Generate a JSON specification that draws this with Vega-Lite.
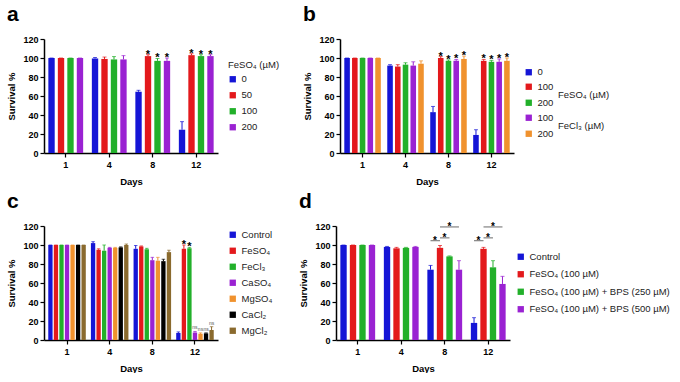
{
  "$schema": "https://vega.github.io/schema/vega-lite/v6.json",
  "padding": {"left": 6, "top": 4, "right": 0, "bottom": 0},
  "background": "white",
  "config": {
    "font": "Liberation Sans",
    "view": {"stroke": null},
    "axis": {"grid": false, "domainColor": "#000", "domainWidth": 1.5, "tickColor": "#000", "tickWidth": 1.2, "tickSize": 4, "labelColor": "#000", "labelFontSize": 9, "labelFontWeight": "bold", "titleFontSize": 9.5, "titleFontWeight": "bold", "titleColor": "#000"},
    "axisX": {"labelAngle": 0, "labelPadding": 3, "titlePadding": 7},
    "axisY": {"titlePadding": 6, "labelPadding": 2},
    "legend": {"labelFontSize": 9.5, "labelColor": "#222", "titleFontSize": 9.5, "titleFontWeight": "normal", "titleColor": "#222", "symbolType": "square", "symbolSize": 40, "symbolStrokeWidth": 0, "symbolOpacity": 1, "rowPadding": 5, "offset": 10, "layout": {"right": {"anchor": "middle", "direction": "vertical", "margin": 5}}},
    "title": {"fontSize": 21, "fontWeight": "bold", "anchor": "start", "frame": "bounds", "color": "#000"}
  },
  "resolve": {"scale": {"color": "independent", "xOffset": "independent"}, "legend": {"color": "independent"}},
  "vconcat": [
    {
      "resolve": {"scale": {"color": "independent", "xOffset": "independent"}, "legend": {"color": "independent"}},
      "hconcat": [
        {
          "title": {"text": "a", "offset": 10},
          "width": 174, "height": 114,
          "data": {"values": [
            {"day": "1", "s": "0", "v": 100, "hi": 100, "sig": ""},
            {"day": "1", "s": "50", "v": 100, "hi": 100, "sig": ""},
            {"day": "1", "s": "100", "v": 100, "hi": 100, "sig": ""},
            {"day": "1", "s": "200", "v": 100, "hi": 100, "sig": ""},
            {"day": "4", "s": "0", "v": 99.5, "hi": 100.5, "sig": ""},
            {"day": "4", "s": "50", "v": 99, "hi": 101, "sig": ""},
            {"day": "4", "s": "100", "v": 98.5, "hi": 101.5, "sig": ""},
            {"day": "4", "s": "200", "v": 98.5, "hi": 102.5, "sig": ""},
            {"day": "8", "s": "0", "v": 64.5, "hi": 66, "sig": ""},
            {"day": "8", "s": "50", "v": 102, "hi": 103.5, "sig": "*"},
            {"day": "8", "s": "100", "v": 97, "hi": 99.5, "sig": "*"},
            {"day": "8", "s": "200", "v": 97, "hi": 100, "sig": "*"},
            {"day": "12", "s": "0", "v": 24.5, "hi": 33, "sig": ""},
            {"day": "12", "s": "50", "v": 103, "hi": 104.5, "sig": "*"},
            {"day": "12", "s": "100", "v": 102, "hi": 103.5, "sig": "*"},
            {"day": "12", "s": "200", "v": 102, "hi": 103.5, "sig": "*"}
          ]},
          "encoding": {
            "x": {"field": "day", "type": "nominal", "title": "Days", "scale": {"domain": ["1", "4", "8", "12"], "paddingInner": 0.2, "paddingOuter": 0.1}},
            "xOffset": {"field": "s", "scale": {"domain": ["0", "50", "100", "200"], "paddingInner": 0.33}},
            "y": {"field": "v", "type": "quantitative", "title": "Survival %", "scale": {"domain": [0, 120], "nice": false}, "axis": {"values": [0, 20, 40, 60, 80, 100, 120]}}
          },
          "layer": [
            {"mark": {"type": "bar"}, "encoding": {"color": {"field": "s", "type": "nominal", "scale": {"domain": ["0", "50", "100", "200"], "range": ["#1515d6", "#e3191c", "#22b02a", "#9a22d2"]}, "legend": {"title": "FeSO₄ (µM)"}}}},
            {"mark": {"type": "rule", "strokeWidth": 1}, "encoding": {"y2": {"field": "hi"}, "color": {"field": "s", "type": "nominal", "legend": null}}},
            {"mark": {"type": "tick", "orient": "horizontal", "size": 4, "thickness": 1}, "encoding": {"y": {"field": "hi", "type": "quantitative"}, "color": {"field": "s", "type": "nominal", "legend": null}}},
            {"mark": {"type": "text", "baseline": "bottom", "fontSize": 11, "fontWeight": "bold", "dy": 5}, "encoding": {"y": {"field": "hi", "type": "quantitative"}, "text": {"field": "sig"}}}
          ]
        },
        {
          "title": {"text": "b", "offset": 10},
          "width": 174, "height": 114,
          "data": {"values": [
            {"day": "1", "s": "0", "g": "0", "lab": "0", "v": 100, "hi": 100, "sig": ""},
            {"day": "1", "s": "FeSO4 100", "g": "FeSO4", "lab": "100", "v": 100, "hi": 100, "sig": ""},
            {"day": "1", "s": "FeSO4 200", "g": "FeSO4", "lab": "200", "v": 100, "hi": 100, "sig": ""},
            {"day": "1", "s": "FeCl3 100", "g": "FeCl3", "lab": "100", "v": 100, "hi": 100, "sig": ""},
            {"day": "1", "s": "FeCl3 200", "g": "FeCl3", "lab": "200", "v": 100, "hi": 100, "sig": ""},
            {"day": "4", "s": "0", "g": "0", "lab": "0", "v": 92, "hi": 93, "sig": ""},
            {"day": "4", "s": "FeSO4 100", "g": "FeSO4", "lab": "100", "v": 91, "hi": 93, "sig": ""},
            {"day": "4", "s": "FeSO4 200", "g": "FeSO4", "lab": "200", "v": 93, "hi": 95, "sig": ""},
            {"day": "4", "s": "FeCl3 100", "g": "FeCl3", "lab": "100", "v": 92, "hi": 96, "sig": ""},
            {"day": "4", "s": "FeCl3 200", "g": "FeCl3", "lab": "200", "v": 94, "hi": 97, "sig": ""},
            {"day": "8", "s": "0", "g": "0", "lab": "0", "v": 43, "hi": 49, "sig": ""},
            {"day": "8", "s": "FeSO4 100", "g": "FeSO4", "lab": "100", "v": 100, "hi": 101.5, "sig": "*"},
            {"day": "8", "s": "FeSO4 200", "g": "FeSO4", "lab": "200", "v": 97, "hi": 98, "sig": "*"},
            {"day": "8", "s": "FeCl3 100", "g": "FeCl3", "lab": "100", "v": 97, "hi": 98.5, "sig": "*"},
            {"day": "8", "s": "FeCl3 200", "g": "FeCl3", "lab": "200", "v": 99, "hi": 102, "sig": "*"},
            {"day": "12", "s": "0", "g": "0", "lab": "0", "v": 19, "hi": 24.5, "sig": ""},
            {"day": "12", "s": "FeSO4 100", "g": "FeSO4", "lab": "100", "v": 97, "hi": 98.5, "sig": "*"},
            {"day": "12", "s": "FeSO4 200", "g": "FeSO4", "lab": "200", "v": 96, "hi": 97.5, "sig": "*"},
            {"day": "12", "s": "FeCl3 100", "g": "FeCl3", "lab": "100", "v": 96, "hi": 99, "sig": "*"},
            {"day": "12", "s": "FeCl3 200", "g": "FeCl3", "lab": "200", "v": 97, "hi": 100, "sig": "*"}
          ]},
          "encoding": {
            "x": {"field": "day", "type": "nominal", "title": "Days", "scale": {"domain": ["1", "4", "8", "12"], "paddingInner": 0.15, "paddingOuter": 0.1}},
            "xOffset": {"field": "s", "scale": {"domain": ["0", "FeSO4 100", "FeSO4 200", "FeCl3 100", "FeCl3 200"], "paddingInner": 0.28}},
            "y": {"field": "v", "type": "quantitative", "title": "Survival %", "scale": {"domain": [0, 120], "nice": false}, "axis": {"values": [0, 20, 40, 60, 80, 100, 120]}}
          },
          "resolve": {"scale": {"color": "independent"}, "legend": {"color": "independent"}},
          "layer": [
            {
              "transform": [{"filter": "datum.g == '0'"}],
              "encoding": {"color": {"field": "lab", "type": "nominal", "scale": {"domain": ["0"], "range": ["#1515d6"]}, "legend": {"title": " "}}},
              "layer": [
                {"mark": {"type": "bar"}},
                {"mark": {"type": "rule", "strokeWidth": 1}, "encoding": {"y2": {"field": "hi"}}},
                {"mark": {"type": "tick", "orient": "horizontal", "size": 4, "thickness": 1}, "encoding": {"y": {"field": "hi", "type": "quantitative"}}}
              ]
            },
            {
              "transform": [{"filter": "datum.g == 'FeSO4'"}],
              "encoding": {"color": {"field": "lab", "type": "nominal", "scale": {"domain": ["100", "200"], "range": ["#e3191c", "#22b02a"]}, "legend": {"title": "FeSO₄ (µM)", "titleOrient": "right", "titleAnchor": "middle"}}},
              "layer": [
                {"mark": {"type": "bar"}},
                {"mark": {"type": "rule", "strokeWidth": 1}, "encoding": {"y2": {"field": "hi"}}},
                {"mark": {"type": "tick", "orient": "horizontal", "size": 4, "thickness": 1}, "encoding": {"y": {"field": "hi", "type": "quantitative"}}}
              ]
            },
            {
              "transform": [{"filter": "datum.g == 'FeCl3'"}],
              "encoding": {"color": {"field": "lab", "type": "nominal", "scale": {"domain": ["100", "200"], "range": ["#9a22d2", "#f0922e"]}, "legend": {"title": "FeCl₃ (µM)", "titleOrient": "right", "titleAnchor": "middle"}}},
              "layer": [
                {"mark": {"type": "bar"}},
                {"mark": {"type": "rule", "strokeWidth": 1}, "encoding": {"y2": {"field": "hi"}}},
                {"mark": {"type": "tick", "orient": "horizontal", "size": 4, "thickness": 1}, "encoding": {"y": {"field": "hi", "type": "quantitative"}}}
              ]
            },
            {"mark": {"type": "text", "baseline": "bottom", "fontSize": 11, "fontWeight": "bold", "dy": 5}, "encoding": {"y": {"field": "hi", "type": "quantitative"}, "text": {"field": "sig"}}}
          ]
        }
      ],
      "spacing": 22
    },
    {
      "resolve": {"scale": {"color": "independent", "xOffset": "independent"}, "legend": {"color": "independent"}},
      "hconcat": [
        {
          "title": {"text": "c", "offset": 10},
          "width": 174, "height": 114,
          "data": {"values": [
            {"day": "1", "s": "Control", "v": 100, "hi": 100, "sig": ""},
            {"day": "1", "s": "FeSO₄", "v": 100, "hi": 100, "sig": ""},
            {"day": "1", "s": "FeCl₃", "v": 100, "hi": 100, "sig": ""},
            {"day": "1", "s": "CaSO₄", "v": 100, "hi": 100, "sig": ""},
            {"day": "1", "s": "MgSO₄", "v": 100, "hi": 100, "sig": ""},
            {"day": "1", "s": "CaCl₂", "v": 100, "hi": 100, "sig": ""},
            {"day": "1", "s": "MgCl₂", "v": 100, "hi": 100, "sig": ""},
            {"day": "4", "s": "Control", "v": 102, "hi": 103.5, "sig": ""},
            {"day": "4", "s": "FeSO₄", "v": 95, "hi": 96, "sig": ""},
            {"day": "4", "s": "FeCl₃", "v": 94, "hi": 100, "sig": ""},
            {"day": "4", "s": "CaSO₄", "v": 97, "hi": 97.5, "sig": ""},
            {"day": "4", "s": "MgSO₄", "v": 97, "hi": 97.5, "sig": ""},
            {"day": "4", "s": "CaCl₂", "v": 97.5, "hi": 98, "sig": ""},
            {"day": "4", "s": "MgCl₂", "v": 100, "hi": 101, "sig": ""},
            {"day": "8", "s": "Control", "v": 96, "hi": 99.5, "sig": ""},
            {"day": "8", "s": "FeSO₄", "v": 98.5, "hi": 99, "sig": ""},
            {"day": "8", "s": "FeCl₃", "v": 95.5, "hi": 96.5, "sig": ""},
            {"day": "8", "s": "CaSO₄", "v": 84, "hi": 87, "sig": ""},
            {"day": "8", "s": "MgSO₄", "v": 83.5, "hi": 87, "sig": ""},
            {"day": "8", "s": "CaCl₂", "v": 83, "hi": 85, "sig": ""},
            {"day": "8", "s": "MgCl₂", "v": 92.5, "hi": 94.5, "sig": ""},
            {"day": "12", "s": "Control", "v": 7.5, "hi": 8.5, "sig": ""},
            {"day": "12", "s": "FeSO₄", "v": 96, "hi": 100, "sig": "*"},
            {"day": "12", "s": "FeCl₃", "v": 96.5, "hi": 97.5, "sig": "*"},
            {"day": "12", "s": "CaSO₄", "v": 8, "hi": 9, "sig": "ns"},
            {"day": "12", "s": "MgSO₄", "v": 6.5, "hi": 7.5, "sig": "ns"},
            {"day": "12", "s": "CaCl₂", "v": 7, "hi": 7.5, "sig": "ns"},
            {"day": "12", "s": "MgCl₂", "v": 10.5, "hi": 14, "sig": "ns"}
          ]},
          "encoding": {
            "x": {"field": "day", "type": "nominal", "title": "Days", "scale": {"domain": ["1", "4", "8", "12"], "paddingInner": 0.12, "paddingOuter": 0.1}},
            "xOffset": {"field": "s", "scale": {"domain": ["Control", "FeSO₄", "FeCl₃", "CaSO₄", "MgSO₄", "CaCl₂", "MgCl₂"], "paddingInner": 0.22}},
            "y": {"field": "v", "type": "quantitative", "title": "Survival %", "scale": {"domain": [0, 120], "nice": false}, "axis": {"values": [0, 20, 40, 60, 80, 100, 120]}}
          },
          "layer": [
            {"mark": {"type": "bar"}, "encoding": {"color": {"field": "s", "type": "nominal", "scale": {"domain": ["Control", "FeSO₄", "FeCl₃", "CaSO₄", "MgSO₄", "CaCl₂", "MgCl₂"], "range": ["#1515d6", "#e3191c", "#22b02a", "#9a22d2", "#f0922e", "#000000", "#8a6a2e"]}, "legend": {"title": null}}}},
            {"mark": {"type": "rule", "strokeWidth": 1}, "encoding": {"y2": {"field": "hi"}, "color": {"field": "s", "type": "nominal", "legend": null}}},
            {"mark": {"type": "tick", "orient": "horizontal", "size": 3.5, "thickness": 1}, "encoding": {"y": {"field": "hi", "type": "quantitative"}, "color": {"field": "s", "type": "nominal", "legend": null}}},
            {"transform": [{"filter": "datum.sig == '*'"}], "mark": {"type": "text", "baseline": "bottom", "fontSize": 11, "fontWeight": "bold", "dy": 5}, "encoding": {"y": {"field": "hi", "type": "quantitative"}, "text": {"field": "sig"}}},
            {"transform": [{"filter": "datum.sig == 'ns'"}], "mark": {"type": "text", "baseline": "bottom", "fontSize": 5, "color": "#555", "dy": -1}, "encoding": {"y": {"field": "hi", "type": "quantitative"}, "text": {"field": "sig"}}}
          ]
        },
        {
          "title": {"text": "d", "offset": 10},
          "width": 174, "height": 114,
          "data": {"values": [
            {"day": "1", "s": "Control", "v": 100, "hi": 100},
            {"day": "1", "s": "FeSO₄ (100 µM)", "v": 100, "hi": 100},
            {"day": "1", "s": "FeSO₄ (100 µM) + BPS (250 µM)", "v": 100, "hi": 100},
            {"day": "1", "s": "FeSO₄ (100 µM) + BPS (500 µM)", "v": 100, "hi": 100},
            {"day": "4", "s": "Control", "v": 98, "hi": 98.5},
            {"day": "4", "s": "FeSO₄ (100 µM)", "v": 96.5, "hi": 97.5},
            {"day": "4", "s": "FeSO₄ (100 µM) + BPS (250 µM)", "v": 97, "hi": 97.5},
            {"day": "4", "s": "FeSO₄ (100 µM) + BPS (500 µM)", "v": 98, "hi": 98.5},
            {"day": "8", "s": "Control", "v": 74, "hi": 78.5},
            {"day": "8", "s": "FeSO₄ (100 µM)", "v": 97, "hi": 99.5},
            {"day": "8", "s": "FeSO₄ (100 µM) + BPS (250 µM)", "v": 88, "hi": 88.5},
            {"day": "8", "s": "FeSO₄ (100 µM) + BPS (500 µM)", "v": 74, "hi": 83.5},
            {"day": "12", "s": "Control", "v": 18, "hi": 23.5},
            {"day": "12", "s": "FeSO₄ (100 µM)", "v": 96, "hi": 97.5},
            {"day": "12", "s": "FeSO₄ (100 µM) + BPS (250 µM)", "v": 76.5, "hi": 83.5},
            {"day": "12", "s": "FeSO₄ (100 µM) + BPS (500 µM)", "v": 59, "hi": 67}
          ]},
          "encoding": {
            "x": {"field": "day", "type": "nominal", "title": "Days", "scale": {"domain": ["1", "4", "8", "12"], "paddingInner": 0.2, "paddingOuter": 0.1}},
            "xOffset": {"field": "s", "scale": {"domain": ["Control", "FeSO₄ (100 µM)", "FeSO₄ (100 µM) + BPS (250 µM)", "FeSO₄ (100 µM) + BPS (500 µM)"], "paddingInner": 0.33}},
            "y": {"field": "v", "type": "quantitative", "title": "Survival %", "scale": {"domain": [0, 120], "nice": false}, "axis": {"values": [0, 20, 40, 60, 80, 100, 120]}}
          },
          "layer": [
            {"mark": {"type": "bar"}, "encoding": {"color": {"field": "s", "type": "nominal", "scale": {"domain": ["Control", "FeSO₄ (100 µM)", "FeSO₄ (100 µM) + BPS (250 µM)", "FeSO₄ (100 µM) + BPS (500 µM)"], "range": ["#1515d6", "#e3191c", "#22b02a", "#9a22d2"]}, "legend": {"title": null, "rowPadding": 6.5, "offset": 6}}}},
            {"mark": {"type": "rule", "strokeWidth": 1}, "encoding": {"y2": {"field": "hi"}, "color": {"field": "s", "type": "nominal", "legend": null}}},
            {"mark": {"type": "tick", "orient": "horizontal", "size": 4, "thickness": 1}, "encoding": {"y": {"field": "hi", "type": "quantitative"}, "color": {"field": "s", "type": "nominal", "legend": null}}},
            {
              "data": {"values": [
                {"day": "8", "s": "Control", "b": 104.5, "id": "8a"},
                {"day": "8", "s": "FeSO₄ (100 µM)", "b": 104.5, "id": "8a"},
                {"day": "8", "s": "FeSO₄ (100 µM)", "b": 107.5, "id": "8b"},
                {"day": "8", "s": "FeSO₄ (100 µM) + BPS (250 µM)", "b": 107.5, "id": "8b"},
                {"day": "8", "s": "FeSO₄ (100 µM)", "b": 119, "id": "8c"},
                {"day": "8", "s": "FeSO₄ (100 µM) + BPS (500 µM)", "b": 119, "id": "8c"},
                {"day": "12", "s": "Control", "b": 104.5, "id": "12a"},
                {"day": "12", "s": "FeSO₄ (100 µM)", "b": 104.5, "id": "12a"},
                {"day": "12", "s": "FeSO₄ (100 µM)", "b": 107.5, "id": "12b"},
                {"day": "12", "s": "FeSO₄ (100 µM) + BPS (250 µM)", "b": 107.5, "id": "12b"},
                {"day": "12", "s": "FeSO₄ (100 µM)", "b": 119, "id": "12c"},
                {"day": "12", "s": "FeSO₄ (100 µM) + BPS (500 µM)", "b": 119, "id": "12c"}
              ]},
              "mark": {"type": "line", "color": "#444", "strokeWidth": 0.8},
              "encoding": {"y": {"field": "b", "type": "quantitative"}, "detail": {"field": "id"}}
            },
            {
              "data": {"values": [
                {"day": "8", "s": "Control", "b": 104.5, "t": "*"},
                {"day": "8", "s": "FeSO₄ (100 µM)", "b": 107.5, "t": "*"},
                {"day": "12", "s": "Control", "b": 104.5, "t": "*"},
                {"day": "12", "s": "FeSO₄ (100 µM)", "b": 107.5, "t": "*"}
              ]},
              "mark": {"type": "text", "baseline": "bottom", "fontSize": 10, "fontWeight": "bold", "dy": 5, "dx": 4.5},
              "encoding": {"y": {"field": "b", "type": "quantitative"}, "text": {"field": "t"}}
            },
            {
              "data": {"values": [
                {"day": "8", "s": "FeSO₄ (100 µM) + BPS (250 µM)", "b": 119, "t": "*"},
                {"day": "12", "s": "FeSO₄ (100 µM) + BPS (250 µM)", "b": 119, "t": "*"}
              ]},
              "mark": {"type": "text", "baseline": "bottom", "fontSize": 10, "fontWeight": "bold", "dy": 5},
              "encoding": {"y": {"field": "b", "type": "quantitative"}, "text": {"field": "t"}}
            }
          ]
        }
      ],
      "spacing": 25
    }
  ],
  "spacing": 4
}
